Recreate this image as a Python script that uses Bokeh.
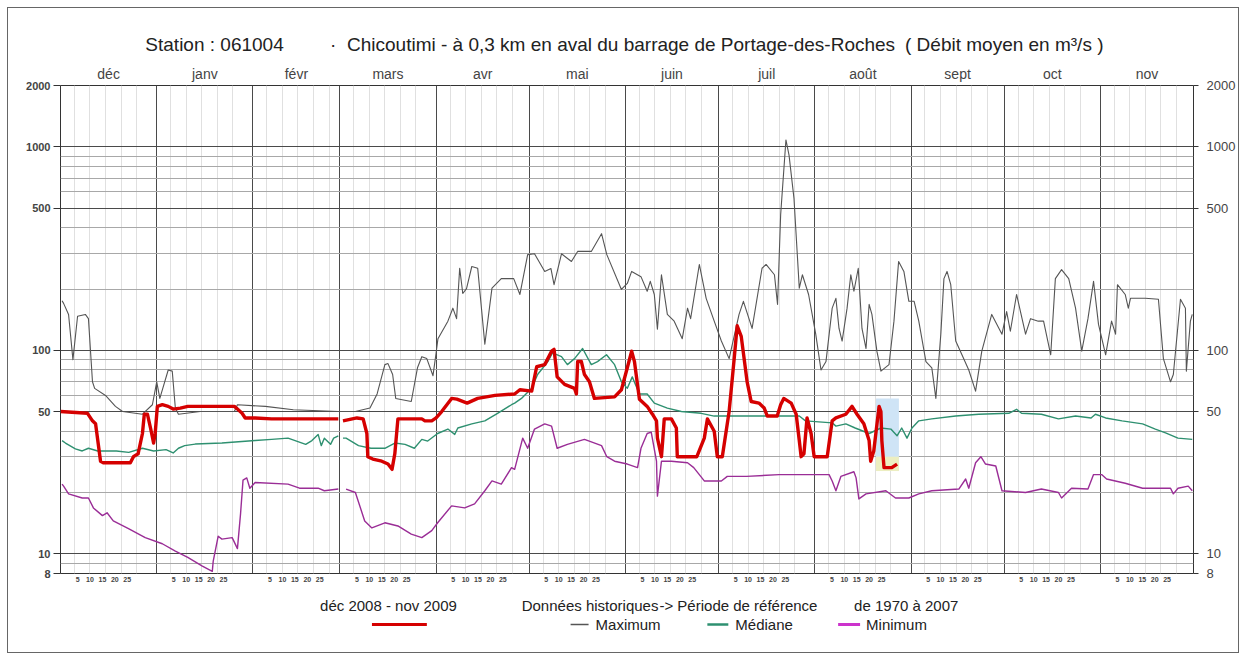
import math
from bokeh.plotting import figure
from bokeh.layouts import column
from bokeh.models import (Range1d, FixedTicker, LinearAxis, LogAxis, CustomJSTickFormatter,
                          PrintfTickFormatter)
from bokeh.core.properties import value
from bokeh.embed import file_html
from bokeh.resources import INLINE

# ---------------- data ----------------
months = ["déc", "janv", "févr", "mars", "avr", "mai", "juin", "juil", "août", "sept", "oct", "nov"]
month_lengths = [31, 31, 28, 31, 30, 31, 30, 31, 31, 30, 31, 30]
day_labels = ["5", "10", "15", "20", "25"]
y_tick_values = [8, 10, 50, 100, 500, 1000, 2000]
y_major_grid = [10, 50, 100, 500, 1000]
y_minor_grid = [9, 20, 30, 40, 60, 70, 80, 90, 200, 300, 400, 600, 700, 800, 900]

NaN = float("nan")

# Maximum (historical) - day index from 1 Dec, flow m3/s
max_days = [0.5, 1, 2.6, 4, 5.5, 8, 9, 10.3, 11, 14.5, 17.7, 20, 26.4, 29.6, 31, 32, 34.7, 36, 37, 38,
            45, 56, 57, 66, 75, 89.5, 95, 99.7, 102, 104.5, 105.5, 107, 108, 113, 115, 116.4, 118, 120,
            121, 121.6, 124.8, 126.4, 127.6, 128.6, 129.6, 130.8, 132.5, 134.4, 136.7, 139, 142, 146,
            148, 150.5, 152.7, 156, 158, 159, 161.4, 164.6, 166.6, 171, 174.3, 176, 180.7, 182.6, 184,
            187, 189, 190, 191.3, 192.3, 193.6, 195.5, 197.7, 200.3, 202, 203, 205.8, 208, 210.6, 212.9,
            215.4, 218.6, 220, 222.8, 226, 227.3, 230, 231, 232, 233.7, 234.7, 236.3, 238, 239, 241,
            243.3, 245, 246.6, 248.6, 249.8, 250.8, 251.8, 253.4, 254.6, 255.6, 257, 258.2, 259.5, 260.5,
            261.4, 263, 264.3, 266.9, 268.5, 270, 271.7, 273.3, 275, 276.5, 278.8, 280.7, 282, 283.6,
            284.6, 285.6, 286.8, 288.4, 290.4, 292.6, 294.8, 296.8, 300, 303.3, 304.8, 306, 308, 310.9,
            312.5, 315, 316.7, 319, 320.5, 322.5, 324.8, 327, 329, 331, 332.8, 334.4, 336.7, 338.6,
            339.9, 340.5, 343, 344, 344.7, 349.5, 353.7, 355.3, 357.6, 358.5, 360.8, 362.4, 362.7, 364,
            364.6]
max_vals = [175, 170, 150, 90, 147, 150, 143, 70, 65, 60, 53, 50, 48.5, 54, 70, 58, 80, 79, 52, 48.5,
            50, 50, 54, 53, 51, 50, 50, 52, 61, 85, 86, 76, 58, 56, 82, 93, 91, 75,
            97, 114, 139, 161, 143, 253, 190, 201, 258, 253, 107, 202, 225, 225,
            188, 295, 298, 244, 252, 210, 298, 273, 306, 306, 374, 295, 199, 213, 244,
            230, 195, 218, 188, 127, 235, 150, 139, 114, 161, 143, 264, 180, 139, 111,
            91, 150, 174, 128, 253, 264, 235, 168, 464, 1080, 910, 556, 202, 235, 188,
            120, 80, 88, 161, 180, 128, 111, 161, 235, 195, 253, 128, 102, 168,
            150, 99, 79, 85, 139, 273, 244, 174, 174, 139, 88, 82, 58, 120,
            225, 244, 210, 111, 95, 80, 63, 99, 150, 120, 155, 124, 188, 120,
            143, 139, 139, 95, 225, 249, 225, 161, 99, 143, 218, 134, 95, 139,
            120, 210, 188, 161, 180, 180, 178, 91, 70, 76, 178, 161, 79, 139,
            150]

# Médiane (historical)
med_days = [0.5, 1.6, 4.8, 7, 9, 12, 18, 22, 26.4, 30, 34, 36.3, 38, 40, 43.4, 52, 62.7, 68, 73.3, 79,
            81, 83, 84, 85, 87, 88, 89.5, 89.9, 91, 92, 96, 100, 104.5, 107.7, 111, 114, 116.4, 118.3,
            121.5, 124.8, 127, 128, 132.5, 136.7, 140.8, 145.3, 146.3, 148.5, 151.8, 153.7, 157, 158.5,
            161.4, 163.3, 165.6, 168.2, 171, 173, 175.9, 178.5, 180.7, 182.6, 184.2, 186.5, 189, 191.3,
            195.5, 200, 206.4, 210.6, 215, 221, 230, 238, 240, 248.6, 249.8, 253, 256, 260.5, 264.3,
            267.5, 269.5, 271, 272.7, 274.3, 276.5, 280.7, 288.4, 295.8, 305.5, 308, 309.6, 316, 321.5,
            327, 332, 333.4, 336.7, 342, 348.6, 352.7, 356, 360, 364.6]
med_vals = [36, 35, 32.8, 32, 33, 32, 32, 31.5, 33, 32, 32.5, 31.3, 33, 34, 34.6, 35, 36, 36.5, 37, 34.5,
            36, 38.6, 34, 37, 34.5, 37, 38, NaN, 37, 37, 34, 33, 33, 35, 34.5, 33, 36.5, 35.8,
            39, 41, 38.6, 41.5, 43.5, 45, 49, 54, 55, 58, 65, 76, 88, 97,
            93, 85, 91, 102, 85, 88, 95, 85, 70, 65, 74, 61, 61, 55,
            52, 50, 49, 47.5, 47.5, 47.5, 47.5, 47.5, 45, 44, 42.4, 43.5, 41.5, 39, 41.5,
            41, 38, 41.5, 37, 41.5, 45, 46, 47.5, 48.5, 49, 51.3, 49, 48.5, 46,
            47.5, 46.5, 48.5, 46.5, 45, 43.5, 41, 39.3, 37, 36.5]

# Minimum (historical)
min_days = [0.5, 1, 2.6, 7, 9, 10.6, 13.5, 15, 17, 21.9, 27.3, 32.8, 37, 41, 45.7, 48.9, 49.2, 50.8, 52,
            55.3, 57, 58, 58.8, 60, 61, 62.7, 73.3, 77, 83, 85, 89.5, 89.9, 92, 95, 98, 100.3, 104.5,
            108.7, 113, 116.4, 119.6, 121.5, 126, 130.2, 133.4, 136.7, 139, 142, 145.3, 146.3, 148.9,
            150.5, 152.7, 156, 158.2, 160, 163.3, 168.8, 174.3, 176, 178.5, 182.6, 185.9, 187, 189,
            190.3, 192, 192.3, 193.6, 196.8, 202, 204, 207.4, 212.9, 214.8, 221, 231.5, 247.6, 248.6,
            249.8, 251.4, 255.6, 256.3, 257.2, 259.5, 265.9, 269, 273.3, 276.5, 280.7, 289.4, 291.6,
            292.6, 294.8, 296.5, 298, 301.3, 303.3, 310.9, 316, 321.5, 322.5, 325.7, 331, 332.8, 335.4,
            337, 343, 348.6, 353.7, 357.6, 358.5, 360, 363.3, 364.6]
min_vals = [22, 21.5, 19.7, 18.8, 18.8, 16.8, 15.4, 15.9, 14.5, 13.3, 12, 11.2, 10.3, 9.6, 8.7, 8.2, 9.2, 12.2, 11.8,
            12, 10.6, 15.7, 23, 23.6, 21, 22.4, 22, 21, 21, 20.4, 20.8, NaN, 20.8, 20, 14.5, 13.4, 14.2,
            13.7, 12.5, 12, 13, 14.2, 17.2, 16.8, 17.6, 20.4, 22.8, 22, 26.5, 26, 37,
            33, 41, 43.5, 42.4, 33, 34.5, 36.5, 34, 30, 28.5, 27.6, 26.5, 33, 39,
            39.6, 28.5, 19.2, 28.5, 28.5, 28, 26.5, 22.8, 22.8, 24, 24, 24.5, 24.5, 22.8,
            20.4, 24, 25.3, 23.6, 18.6, 19.7, 20.4, 18.8, 18.8, 19.7, 20.4, 20.8, 23.3,
            21, 28, 30, 27.6, 27, 20.4, 20, 20.8, 20, 18.8, 21, 20.8, 24.5, 24.5,
            23.3, 22.2, 21, 21, 21, 19.7, 21, 21.5, 20.4]

# Observed déc 2008 - nov 2009
obs_days = [0, 8.7, 10.3, 11.3, 12.9, 13.8, 22.5, 23.5, 25, 26.4, 27, 28, 29, 30, 30.5, 31.2, 32.8, 34.7,
            36.3, 38.6, 41, 56, 57, 58.5, 59.5, 62.7, 68, 89.5, 89.9, 91, 95.5, 97.5, 98.7, 99, 100.6,
            103.5, 105.5, 106.8, 107.7, 108.7, 116.4, 117.4, 119.6, 121, 122.8, 126, 127.7, 131, 134.4,
            140, 146.3, 148, 151.8, 153.4, 156, 158.2, 159, 160, 162.4, 165.6, 166.2, 166.6, 167.8,
            168.8, 170.4, 172, 178.5, 180.7, 182.6, 184, 184.9, 186.5, 189, 190.7, 192, 192.3, 193.6,
            194, 194.5, 196.8, 198.4, 198.7, 205, 207.4, 208.4, 210.6, 211.6, 213.2, 215.4, 217, 218,
            219.3, 221.2, 222.5, 225, 226.7, 227.7, 230.9, 232, 233, 235.4, 237, 238, 238.6, 239.5,
            240.5, 241.8, 242.8, 247, 248.6, 249.8, 253, 255, 256.6, 258.8, 260.5, 261, 262, 263.7,
            264.3, 264.6, 265.3, 267.8, 269.5]
obs_vals = [50, 49, 45, 43.5, 28.5, 28, 28, 30, 31, 39, 48.5, 48.5, 41.5, 35, 39, 53, 54, 53,
            51.4, 52, 53, 53, 51.4, 49, 46.5, 46.5, 46, 46, NaN, 45, 46.5, 46, 39, 30, 29.2,
            28.5, 27.6, 26, 31, 46, 46, 45, 45, 46.5, 50, 58, 57.5, 55, 58,
            60, 61, 64, 63, 83, 85, 99, 101, 74, 68, 65, 61, 88, 88,
            76, 70, 58, 59, 64, 82, 99, 88, 57.5, 53, 48.5, 45, 37, 30,
            36, 46, 46, 41.5, 30, 30, 37, 46, 40, 30, 30, 50, 90, 132,
            117, 70, 56, 55, 52, 47.5, 47.5, 54, 58, 55, 48.5, 36, 30, 31,
            46.5, 39, 30, 30, 45, 46.5, 48.5, 53, 48.5, 43.5, 36, 28.5, 32, 53,
            50, 36, 26.5, 26.5, 27.6]

# highlighted (provisional) period
highlight_days = [262.7, 270.1]
highlight_vals = [25.5, 58]
highlight_low_vals = [25.5, 30]

# ---------------- derived positions ----------------
month_starts = [0]
for L in month_lengths:
    month_starts.append(month_starts[-1] + L)
month_centers = [month_starts[i] + month_lengths[i] / 2 for i in range(12)]
day_grid = [s + k - 0.5 for s in month_starts[:-1] for k in (5, 10, 15, 20, 25)]
day_label_pos = [s + off for s in month_starts[:-1] for off in (5.5, 9.5, 13.5, 17.5, 21.5)]

FONT = "Liberation Sans"
W = 1230
FRAME_L, FRAME_R = 60, 1195   # page x of the aligned frame edges
TITLE_H = 54
MAIN_H = 530
LEG_H = 60

# ---------------- main chart ----------------
p = figure(width=W, height=MAIN_H, x_range=Range1d(0, 365), y_range=Range1d(8, 2000),
           y_axis_type="log", output_backend="svg", toolbar_location=None,
           min_border_left=52, min_border_right=43, min_border_top=23, min_border_bottom=19,
           background_fill_color="white", border_fill_color="white")
p.outline_line_color = "#333333"
p.outline_line_width = 1

p.xgrid.ticker = FixedTicker(ticks=month_starts[1:-1], minor_ticks=day_grid)
p.xgrid.grid_line_color = "#4a4a4a"
p.xgrid.grid_line_width = 1
p.xgrid.minor_grid_line_color = "#e0e0e0"
p.ygrid.ticker = FixedTicker(ticks=y_major_grid, minor_ticks=y_minor_grid)
p.ygrid.grid_line_color = "#4a4a4a"
p.ygrid.minor_grid_line_color = "#a8a8a8"

xa = p.xaxis[0]
xa.ticker = FixedTicker(ticks=day_label_pos)
xa.formatter = CustomJSTickFormatter(args=dict(labels=day_labels),
                                     code="return labels[index % labels.length]")
xa.major_tick_line_color = None
xa.major_tick_out = 0
xa.major_tick_in = 0
xa.minor_tick_line_color = None
xa.axis_line_color = None
xa.major_label_text_font = FONT
xa.major_label_text_font_size = "7px"
xa.major_label_text_font_style = "bold"
xa.major_label_standoff = 3

ta = LinearAxis(ticker=FixedTicker(ticks=month_centers),
                formatter=CustomJSTickFormatter(args=dict(names=months), code="return names[index]"))
ta.major_tick_line_color = None
ta.major_tick_out = 0
ta.major_tick_in = 0
ta.minor_tick_line_color = None
ta.axis_line_color = None
ta.major_label_text_font = FONT
ta.major_label_text_font_size = "14px"
ta.major_label_standoff = 4
p.add_layout(ta, "above")

la = p.yaxis[0]
la.ticker = FixedTicker(ticks=y_tick_values)
la.formatter = PrintfTickFormatter(format="%d")
la.axis_line_color = None
la.major_tick_in = 0
la.major_tick_out = 7
la.major_tick_line_color = "#333333"
la.minor_tick_line_color = None
la.major_label_text_font = FONT
la.major_label_text_font_size = "11px"
la.major_label_text_font_style = "bold"
la.major_label_standoff = 3

ra = LogAxis(ticker=FixedTicker(ticks=y_tick_values), formatter=PrintfTickFormatter(format="%d"))
ra.axis_line_color = None
ra.major_tick_in = 0
ra.major_tick_out = 5
ra.major_tick_line_color = "#333333"
ra.minor_tick_line_color = None
ra.major_label_text_font = FONT
ra.major_label_text_font_size = "13px"
ra.major_label_standoff = 8
p.add_layout(ra, "right")

p.quad(left=[highlight_days[0]], right=[highlight_days[1]], bottom=[highlight_vals[0]], top=[highlight_vals[1]],
       fill_color="#cfe4f6", line_color=None)
p.quad(left=[highlight_days[0]], right=[highlight_days[1]], bottom=[highlight_low_vals[0]],
       top=[highlight_low_vals[1]], fill_color="#f2f0b4", fill_alpha=0.8, line_color=None)

p.line(max_days, max_vals, line_color="#555555", line_width=1.1, line_join="round")
p.line(med_days, med_vals, line_color="#2e9070", line_width=1.4, line_join="round")
p.line(min_days, min_vals, line_color="#9a2d96", line_width=1.4, line_join="round")
p.line(obs_days, obs_vals, line_color="#d50000", line_width=3.4, line_join="round")


def blank_fig(h):
    # frames are aligned with the main chart's frame inside the column,
    # so the x range spans the page x of that frame
    f = figure(width=W, height=h, x_range=Range1d(FRAME_L, FRAME_R), y_range=Range1d(0, h),
               output_backend="svg", toolbar_location=None, min_border=0,
               x_axis_location=None, y_axis_location=None,
               background_fill_color="white", border_fill_color="white")
    f.outline_line_color = None
    f.xgrid.visible = False
    f.ygrid.visible = False
    return f


# ---------------- title strip ----------------
tf = blank_fig(TITLE_H)
title_parts = ["Station : 061004", "·",
               "Chicoutimi - à 0,3 km en aval du barrage de Portage-des-Roches",
               "( Débit moyen en m³/s )"]
title_x = [145, 330, 347, 906]
tf.text(x=title_x, y=[TITLE_H - 36] * 4, text=title_parts, text_font=value(FONT),
        text_font_size="19px", text_baseline="middle", text_align="left", text_color="#222222")

# ---------------- legend strip ----------------
lf = blank_fig(LEG_H)
row1_y = LEG_H - 13
row2_y = LEG_H - 32
lf.text(x=[320, 522, 660, 855], y=[row1_y] * 4,
        text=["déc 2008 - nov 2009", "Données historiques", "-> Période de référence", "de  1970 à 2007"],
        text_font=value(FONT), text_font_size="15px", text_baseline="middle", text_align="left",
        text_color="#222222")
lf.segment(x0=[372], y0=[row2_y], x1=[427], y1=[row2_y], line_color="#d50000", line_width=3)
lf.segment(x0=[571], y0=[row2_y], x1=[589], y1=[row2_y], line_color="#555555", line_width=1.5)
lf.segment(x0=[708], y0=[row2_y], x1=[729], y1=[row2_y], line_color="#2e9070", line_width=2.5)
lf.segment(x0=[839], y0=[row2_y], x1=[861], y1=[row2_y], line_color="#cc33cc", line_width=3)
lf.text(x=[596, 736, 867], y=[row2_y] * 3, text=["Maximum", "Médiane", "Minimum"],
        text_font=value(FONT), text_font_size="15px", text_baseline="middle", text_align="left",
        text_color="#222222")

layout = column(tf, p, lf, spacing=0, margin=(8, 0, 0, 8),
                styles={"outline": "1px solid #666", "outline-offset": "0px"})
open("out.html", "w").write(file_html(layout, INLINE))
